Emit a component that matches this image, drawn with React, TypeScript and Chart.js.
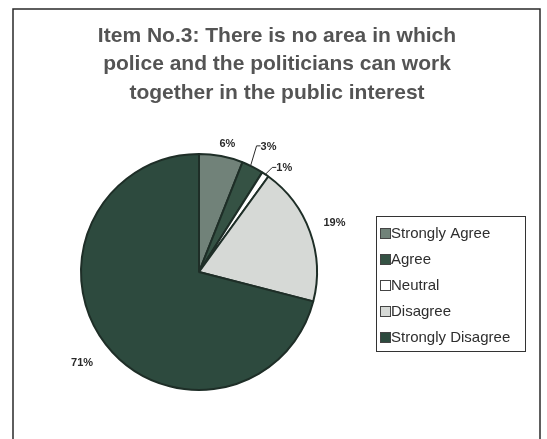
import React, { useEffect, useRef } from "react";
import { Chart, registerables } from "chart.js";

Chart.register(...registerables);

const categories = ["Strongly Agree", "Agree", "Neutral", "Disagree", "Strongly Disagree"];
const values = [6, 3, 1, 19, 71];
const valueLabels = ["6%", "3%", "1%", "19%", "71%"];
const titleLines = [
  "Item No.3: There is no area in which",
  "police and the politicians can work",
  "together in the public interest",
];
const sliceColors = ["#718279", "#355244", "#ffffff", "#d6d9d6", "#2d4a3e"];

const FONT = "Arial, 'Liberation Sans', Helvetica, sans-serif";

const decorPlugin = {
  id: "decor",
  afterDraw(chart: any) {
    const ctx = chart.ctx as CanvasRenderingContext2D;
    const H = chart.height;
    ctx.save();
    ctx.strokeStyle = "#2a2a2a";
    ctx.lineWidth = 1.5;
    ctx.beginPath();
    ctx.moveTo(13, H + 2);
    ctx.lineTo(13, 9);
    ctx.lineTo(540, 9);
    ctx.lineTo(540, H + 2);
    ctx.stroke();

    ctx.fillStyle = "#545454";
    ctx.font = `bold 21px ${FONT}`;
    ctx.textAlign = "center";
    ctx.textBaseline = "middle";
    titleLines.forEach((t, i) => ctx.fillText(t, 277, 36 + i * 28.5));

    const meta = chart.getDatasetMeta(0);
    ctx.fillStyle = "#2a2a2a";
    ctx.font = `bold 11px ${FONT}`;
    ctx.strokeStyle = "#2a2a2a";
    ctx.lineWidth = 1;
    meta.data.forEach((arc: any, i: number) => {
      const { x, y, startAngle, endAngle, outerRadius } = arc.getProps(
        ["x", "y", "startAngle", "endAngle", "outerRadius"],
        true
      );
      const mid = (startAngle + endAngle) / 2;
      const ex = x + Math.cos(mid) * outerRadius;
      const ey = y + Math.sin(mid) * outerRadius;
      const txt = valueLabels[i];
      if (i === 1) {
        const lx = ex + 5;
        const ly = ey - 21;
        ctx.beginPath();
        ctx.moveTo(ex - 2, ey - 1);
        ctx.lineTo(lx - 1, ly);
        ctx.lineTo(lx + 3, ly);
        ctx.stroke();
        ctx.textAlign = "left";
        ctx.fillText(txt, lx + 3, ly + 1);
      } else if (i === 2) {
        const lx = ex + 7;
        const ly = ey - 7;
        ctx.beginPath();
        ctx.moveTo(ex, ey);
        ctx.lineTo(lx, ly);
        ctx.lineTo(lx + 4, ly);
        ctx.stroke();
        ctx.textAlign = "left";
        ctx.fillText(txt, lx + 4, ly + 1);
      } else {
        const off = i === 0 ? 12 : i === 3 ? 26 : 30;
        const dx = i === 0 ? 4 : 0;
        const tx = x + Math.cos(mid) * (outerRadius + off) + dx;
        const ty = y + Math.sin(mid) * (outerRadius + off);
        ctx.textAlign = "center";
        ctx.fillText(txt, tx, ty);
      }
    });

    const bx = 376, by = 216, bw = 149, bh = 135;
    ctx.strokeStyle = "#333";
    ctx.lineWidth = 1;
    ctx.strokeRect(bx + 0.5, by + 0.5, bw, bh);
    ctx.font = `15px ${FONT}`;
    ctx.textAlign = "left";
    ctx.textBaseline = "middle";
    categories.forEach((c, i) => {
      const iy = by + 17 + i * 26;
      ctx.fillStyle = sliceColors[i];
      ctx.fillRect(bx + 4, iy - 5, 11, 11);
      ctx.strokeStyle = "#444";
      ctx.strokeRect(bx + 4.5, iy - 4.5, 10, 10);
      ctx.fillStyle = "#2e2e2e";
      ctx.fillText(c, bx + 15, iy + 1);
    });
    ctx.restore();
  },
};

export default function App() {
  const ref = useRef<HTMLCanvasElement>(null);
  useEffect(() => {
    document.body.style.margin = "0";
    const chart = new Chart(ref.current as HTMLCanvasElement, {
      type: "pie",
      data: {
        labels: categories,
        datasets: [
          {
            data: values,
            backgroundColor: sliceColors,
            borderColor: "#1e2e27",
            borderWidth: 2,
          },
        ],
      },
      options: {
        animation: false,
        responsive: false,
        maintainAspectRatio: false,
        layout: { padding: { left: 80, right: 229, top: 153, bottom: 48 } },
        plugins: {
          legend: { display: false },
          title: { display: false },
          tooltip: { enabled: false },
        },
      },
      plugins: [decorPlugin],
    });
    return () => chart.destroy();
  }, []);
  return (
    <div style={{ position: "absolute", left: 0, top: 0, width: 547, height: 439, background: "#fff" }}>
      <canvas ref={ref} width={547} height={439} />
    </div>
  );
}
